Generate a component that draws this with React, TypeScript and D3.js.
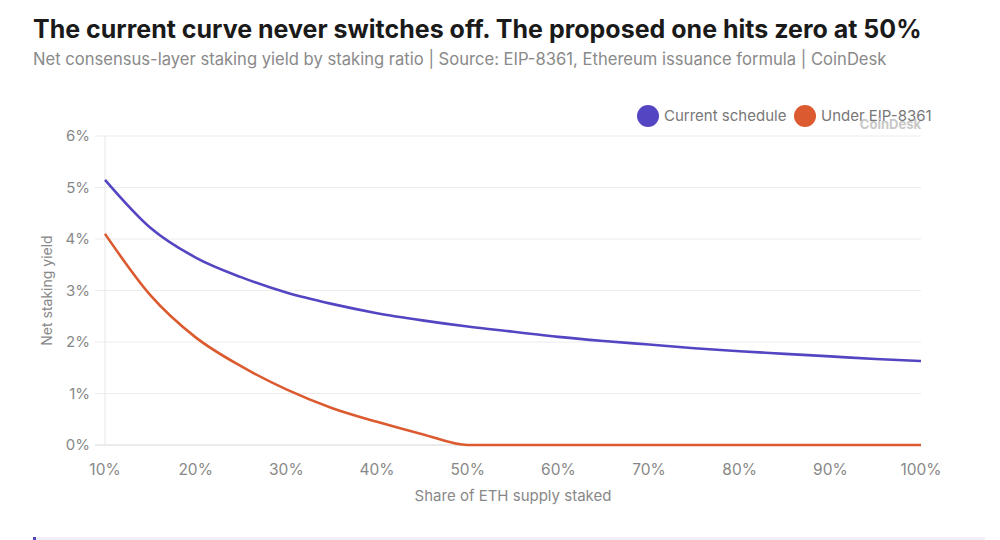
import React from 'react';
import * as d3 from 'd3';

const shares = [10, 15, 20, 25, 30, 35, 40, 45, 50, 55, 60, 65, 70, 75, 80, 85, 90, 95, 100];
const currentYield = [5.15, 4.22, 3.64, 3.26, 2.96, 2.74, 2.56, 2.42, 2.3, 2.2, 2.1, 2.02, 1.95, 1.88, 1.82, 1.77, 1.72, 1.67, 1.63];
const eipYield = [4.1, 2.91, 2.09, 1.53, 1.08, 0.72, 0.45, 0.21, 0, 0, 0, 0, 0, 0, 0, 0, 0, 0, 0];
const xTicks = [10, 20, 30, 40, 50, 60, 70, 80, 90, 100];
const yTicks = [0, 1, 2, 3, 4, 5, 6];

const seriesNames = ['Current schedule', 'Under EIP-8361'];
const seriesColors = ['#5446c2', '#dc5a2f'];

const W = 1000;
const H = 540;
const margin = { left: 105, right: 79, top: 136, bottom: 95 };
const FONT = 'Inter, "Liberation Sans", Arial, sans-serif';

const App: React.FC = () => {
  const x = d3.scaleLinear().domain([10, 100]).range([margin.left, W - margin.right]);
  const y = d3.scaleLinear().domain([0, 6]).range([H - margin.bottom, margin.top]);

  const line = d3
    .line<number>()
    .x((_, i) => x(shares[i]))
    .y((d) => y(d))
    .curve(d3.curveMonotoneX);

  const series = [currentYield, eipYield];

  return (
    <div style={{ position: 'fixed', left: 0, top: 0 }}>
      <svg width={W} height={H} style={{ display: 'block', background: '#fff' }}>
        <text x={33} y={38} fontFamily={FONT} fontWeight={700} fontSize={25} fill="#1a1a1a">
          The current curve never switches off. The proposed one hits zero at 50%
        </text>
        <text x={33} y={65} fontFamily={FONT} fontSize={16.6} fill="#8a8a8a">
          Net consensus-layer staking yield by staking ratio | Source: EIP-8361, Ethereum issuance formula | CoinDesk
        </text>

        {/* legend */}
        <g fontFamily={FONT} fontSize={15} fill="#777">
          <circle cx={648} cy={116} r={11} fill={seriesColors[0]} />
          <text x={664} y={121}>{seriesNames[0]}</text>
          <circle cx={805} cy={116} r={11} fill={seriesColors[1]} />
          <text x={821} y={121}>{seriesNames[1]}</text>
        </g>
        <text x={921} y={129} textAnchor="end" fontFamily={FONT} fontSize={13} fontWeight={700} fill="#c8c8c8">
          CoinDesk
        </text>

        {/* grid */}
        {yTicks.map((t) => (
          <g key={t}>
            <line
              x1={margin.left - 10}
              x2={W - margin.right}
              y1={y(t)}
              y2={y(t)}
              stroke={t === 0 ? '#d6d6d6' : '#ececec'}
              strokeWidth={1}
            />
            <text
              x={90}
              y={y(t)}
              dy="0.35em"
              textAnchor="end"
              fontFamily={FONT}
              fontSize={15}
              fill="#888"
            >
              {t}%
            </text>
          </g>
        ))}
        <line x1={margin.left} x2={margin.left} y1={margin.top} y2={y(0)} stroke="#e6e6e6" />

        {xTicks.map((t) => (
          <text key={t} x={x(t)} y={475} textAnchor="middle" fontFamily={FONT} fontSize={15.5} fill="#888">
            {t}%
          </text>
        ))}

        <text x={513} y={501} textAnchor="middle" fontFamily={FONT} fontSize={15} fill="#888">
          Share of ETH supply staked
        </text>
        <text
          transform={`translate(52, ${(margin.top + y(0)) / 2}) rotate(-90)`}
          textAnchor="middle"
          fontFamily={FONT}
          fontSize={14}
          fill="#888"
        >
          Net staking yield
        </text>

        {series.map((s, i) => (
          <path key={i} d={line(s) ?? ''} fill="none" stroke={seriesColors[i]} strokeWidth={2.6} />
        ))}

        {/* bottom rule */}
        <rect x={33} y={537} width={952} height={3} fill="#f1eff8" />
        <rect x={33} y={537} width={3} height={3} fill="#5446c2" />
      </svg>
    </div>
  );
};

export default App;
